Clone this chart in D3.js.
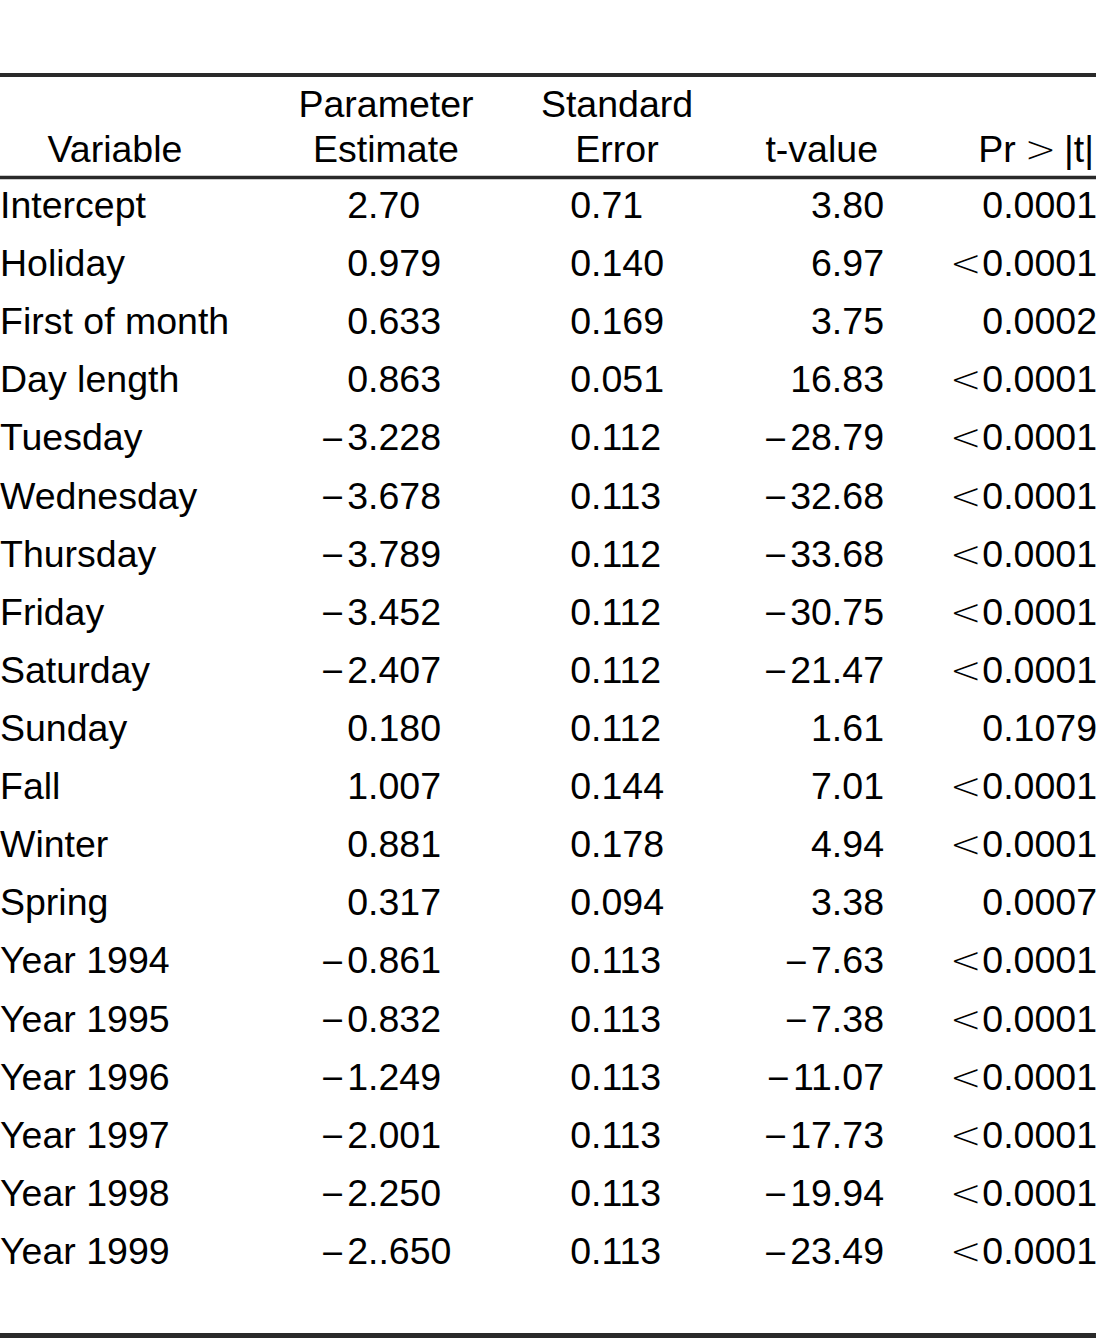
<!DOCTYPE html>
<html>
<head>
<meta charset="utf-8">
<script src="https://cdn.jsdelivr.net/npm/d3@7"></script>
<style>
  html, body { margin: 0; padding: 0; background: #fff; }
  svg { display: block; }
  text { font-family: "Liberation Sans", Arial, sans-serif; font-size: 37.5px; fill: #000; }
  tspan.sym { font-family: "DejaVu Sans", sans-serif; font-weight: 200; }
  tspan.minus { font-family: "DejaVu Sans", sans-serif; font-weight: 400; font-size: 30px; }
</style>
</head>
<body>
<svg id="chart" width="1096" height="1338"></svg>
<script>
// ---- data ----
const variables = ["Intercept", "Holiday", "First of month", "Day length", "Tuesday", "Wednesday",
  "Thursday", "Friday", "Saturday", "Sunday", "Fall", "Winter", "Spring",
  "Year 1994", "Year 1995", "Year 1996", "Year 1997", "Year 1998", "Year 1999"];
const estimates = ["2.70", "0.979", "0.633", "0.863", "\u22123.228", "\u22123.678", "\u22123.789",
  "\u22123.452", "\u22122.407", "0.180", "1.007", "0.881", "0.317", "\u22120.861", "\u22120.832",
  "\u22121.249", "\u22122.001", "\u22122.250", "\u22122..650"];
const stdErrors = ["0.71", "0.140", "0.169", "0.051", "0.112", "0.113", "0.112", "0.112", "0.112",
  "0.112", "0.144", "0.178", "0.094", "0.113", "0.113", "0.113", "0.113", "0.113", "0.113"];
const tValues = ["3.80", "6.97", "3.75", "16.83", "\u221228.79", "\u221232.68", "\u221233.68",
  "\u221230.75", "\u221221.47", "1.61", "7.01", "4.94", "3.38", "\u22127.63", "\u22127.38",
  "\u221211.07", "\u221217.73", "\u221219.94", "\u221223.49"];
const pValues = ["0.0001", "<0.0001", "0.0002", "<0.0001", "<0.0001", "<0.0001", "<0.0001",
  "<0.0001", "<0.0001", "0.1079", "<0.0001", "<0.0001", "0.0007", "<0.0001", "<0.0001",
  "<0.0001", "<0.0001", "<0.0001", "<0.0001"];
const headers = [
  ["Variable"],
  ["Parameter", "Estimate"],
  ["Standard", "Error"],
  ["t-value"],
  ["Pr>|t|"]
];

// ---- layout ----
const W = 1096;
const svg = d3.select("#chart");
const y = d3.scalePoint().domain(variables).range([218, 1264]);

// rules
const rules = [{y: 75, h: 4}, {y: 177.5, h: 3.5}, {y: 1335.5, h: 5}];
svg.selectAll("line.rule").data(rules).join("line")
  .attr("class", "rule")
  .attr("x1", 0).attr("x2", W)
  .attr("y1", d => d.y).attr("y2", d => d.y)
  .attr("stroke", "#2a2a2a").attr("stroke-width", d => d.h);

// write a string, giving the minus and the relation signs their own glyphs and spacing
function fillText(sel, str, gapBefore = 0, gapAfter = 1) {
  const parts = str.split(/([\u2212<>])/).filter(s => s.length);
  let prev = null;
  parts.forEach(p => {
    if (p === "\u2212") {
      sel.append("tspan").attr("class", "minus").attr("dy", -1.5).text(p);
      prev = "minus";
    } else if (p === "<" || p === ">") {
      const t = sel.append("tspan").attr("class", "sym").text(p);
      if (prev === "text" && gapBefore) t.attr("dx", gapBefore);
      prev = "rel";
    } else {
      const t = sel.append("tspan").text(p);
      if (prev === "minus") t.attr("dx", 2).attr("dy", 1.5);
      if (prev === "rel") t.attr("dx", gapAfter);
      prev = "text";
    }
  });
}

// headers
const headerCols = [
  {x: 115, anchor: "middle"},
  {x: 386, anchor: "middle"},
  {x: 617, anchor: "middle"},
  {x: 878, anchor: "end"},
  {x: 1094, anchor: "end"}
];
const lineBase = [117, 162];
headers.forEach((lines, i) => {
  const startIdx = 2 - lines.length;
  lines.forEach((t, j) => {
    const tx = svg.append("text")
      .attr("x", headerCols[i].x)
      .attr("y", lineBase[startIdx + j])
      .attr("text-anchor", headerCols[i].anchor);
    fillText(tx, t, 9, 8);
  });
});

// body
const body = svg.append("g");
body.selectAll("text.var").data(variables).join("text")
  .attr("class", "var")
  .attr("x", 0).attr("y", d => y(d))
  .text(d => d);

// decimal-aligned columns
function decimalColumn(values, decX, cls) {
  const g = body.append("g").attr("class", cls);
  values.forEach((v, i) => {
    const k = v.indexOf(".");
    const intPart = v.slice(0, k), rest = v.slice(k);
    const yy = y(variables[i]);
    fillText(g.append("text").attr("x", decX).attr("y", yy).attr("text-anchor", "end"), intPart);
    g.append("text").attr("x", decX).attr("y", yy).attr("text-anchor", "start").text(rest);
  });
}
decimalColumn(estimates, 368, "est");
decimalColumn(stdErrors, 591, "se");

// right-aligned columns
function rightColumn(values, x, cls) {
  const g = body.append("g").attr("class", cls);
  values.forEach((v, i) => {
    fillText(g.append("text").attr("x", x).attr("y", y(variables[i])).attr("text-anchor", "end"), v);
  });
}
rightColumn(tValues, 884, "tv");
rightColumn(pValues, 1097, "pv");
</script>
</body>
</html>
